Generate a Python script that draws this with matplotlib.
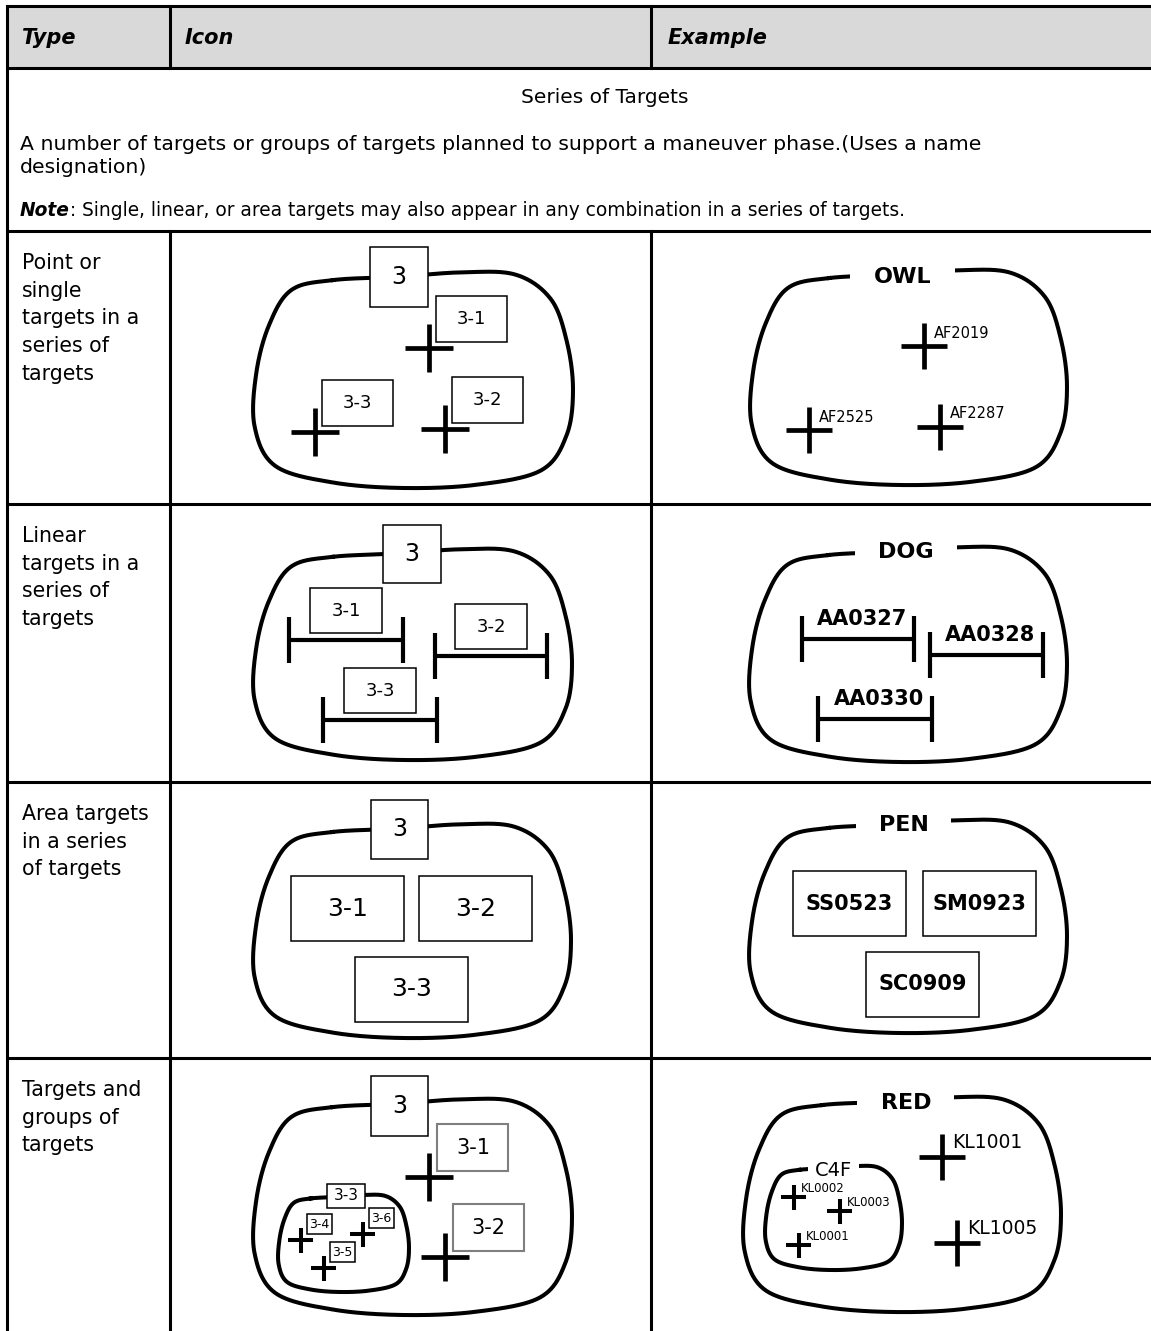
import numpy as np
import matplotlib
matplotlib.use("Agg")
import matplotlib.pyplot as plt
from matplotlib.patches import Rectangle

# ---- table text ----
HEADERS = ["Type", "Icon", "Example"]
SECTION_TITLE = "Series of Targets"
SECTION_DESC = ["A number of targets or groups of targets planned to support a maneuver phase.(Uses a name",
                "designation)"]
NOTE_HEAD = "Note"
NOTE_TEXT = ": Single, linear, or area targets may also appear in any combination in a series of targets."
ROW_TYPES = [
    ["Point or", "single", "targets in a", "series of", "targets"],
    ["Linear", "targets in a", "series of", "targets"],
    ["Area targets", "in a series", "of targets"],
    ["Targets and", "groups of", "targets"],
]

# ---- symbol labels ----
SERIES_NUMBER = "3"
POINT_ICON_LABELS = ["3-1", "3-2", "3-3"]
POINT_EXAMPLE_NAME = "OWL"
POINT_EXAMPLE_CODES = ["AF2019", "AF2287", "AF2525"]
LINEAR_ICON_LABELS = ["3-1", "3-2", "3-3"]
LINEAR_EXAMPLE_NAME = "DOG"
LINEAR_EXAMPLE_CODES = ["AA0327", "AA0328", "AA0330"]
AREA_ICON_LABELS = ["3-1", "3-2", "3-3"]
AREA_EXAMPLE_NAME = "PEN"
AREA_EXAMPLE_CODES = ["SS0523", "SM0923", "SC0909"]
GROUP_ICON_LABELS = ["3-1", "3-2"]
GROUP_ICON_SUBGROUP = "3-3"
GROUP_ICON_SUBLABELS = ["3-4", "3-5", "3-6"]
GROUP_EXAMPLE_NAME = "RED"
GROUP_EXAMPLE_CODES = ["KL1001", "KL1005"]
GROUP_EXAMPLE_SUBGROUP = "C4F"
GROUP_EXAMPLE_SUBCODES = ["KL0001", "KL0002", "KL0003"]

# normalised outline of the free-hand "series" boundary (u right, v down)
BLOB_SHAPE = np.array([
    (0.25, 0.055), (0.45, 0.04), (0.65, 0.02), (0.82, 0.03), (0.93, 0.14),
    (0.98, 0.33), (1.00, 0.55), (0.98, 0.76), (0.90, 0.92), (0.70, 0.985),
    (0.47, 1.00), (0.25, 0.975), (0.07, 0.90), (0.005, 0.72), (0.01, 0.48),
    (0.05, 0.26), (0.12, 0.10),
])

W, H = 1151, 1331
fig = plt.figure(figsize=(W / 100, H / 100), dpi=100)
ax = fig.add_axes([0, 0, 1, 1])
ax.set_xlim(0, W)
ax.set_ylim(H, 0)
ax.axis("off")


def closed_spline(pts, n=40):
    # closed Catmull-Rom through the points
    pts = np.asarray(pts, float)
    N = len(pts)
    t = np.linspace(0, 1, n, endpoint=False)[:, None]
    segs = []
    for i in range(N):
        p0, p1, p2, p3 = pts[i - 1], pts[i], pts[(i + 1) % N], pts[(i + 2) % N]
        segs.append(0.5 * (2 * p1 + (-p0 + p2) * t + (2 * p0 - 5 * p1 + 4 * p2 - p3) * t ** 2
                           + (-p0 + 3 * p1 - 3 * p2 + p3) * t ** 3))
    c = np.vstack(segs)
    return np.vstack([c, c[:1]])


def blob(x0, y0, x1, y1, lw=2.9):
    pts = np.column_stack([x0 + BLOB_SHAPE[:, 0] * (x1 - x0), y0 + BLOB_SHAPE[:, 1] * (y1 - y0)])
    c = closed_spline(pts)
    ax.plot(c[:, 0], c[:, 1], color="k", lw=lw, zorder=2, solid_joinstyle="round")


def cross(x, y, arm=24, lw=3.4):
    ax.plot([x - arm, x + arm], [y, y], color="k", lw=lw, solid_capstyle="butt", zorder=6)
    ax.plot([x, x], [y - arm, y + arm], color="k", lw=lw, solid_capstyle="butt", zorder=6)


def bar(xa, xb, y, half=23, lw=3.0):
    ax.plot([xa, xb], [y, y], color="k", lw=lw, solid_capstyle="butt", zorder=6)
    for xx in (xa, xb):
        ax.plot([xx, xx], [y - half, y + half], color="k", lw=lw, solid_capstyle="butt", zorder=6)


def label_box(x0, y0, w, h, text, size, ec="k", lw=1.1, weight="normal"):
    ax.add_patch(Rectangle((x0, y0), w, h, fc="white", ec=ec, lw=lw, zorder=4))
    ax.text(x0 + w / 2, y0 + h / 2, text, ha="center", va="center", fontsize=size,
            fontweight=weight, zorder=5)


def gap_title(cx, cy, text, gap, size=16, weight="bold"):
    ax.add_patch(Rectangle((cx - gap / 2, cy - 12), gap, 24, fc="white", ec="none", zorder=3))
    ax.text(cx, cy, text, ha="center", va="center", fontsize=size, fontweight=weight, zorder=5)


# ---- table grid ----
X_LEFT, X_COL1, X_COL2 = 7, 170, 651
Y_TOP, Y_HEAD = 6, 68
Y_ROWS = [231, 504, 782, 1058]
TLW = 2.2
ax.add_patch(Rectangle((X_LEFT, Y_TOP), W, Y_HEAD - Y_TOP, fc="#d9d9d9", ec="none", zorder=0))
for yy in [Y_TOP, Y_HEAD] + Y_ROWS:
    ax.plot([X_LEFT, W + 5], [yy, yy], color="k", lw=TLW, zorder=1, solid_capstyle="butt")
ax.plot([X_LEFT, X_LEFT], [Y_TOP, H + 5], color="k", lw=TLW, zorder=1)
for xx in (X_COL1, X_COL2):
    ax.plot([xx, xx], [Y_TOP, Y_HEAD], color="k", lw=TLW, zorder=1)
    ax.plot([xx, xx], [Y_ROWS[0], H + 5], color="k", lw=TLW, zorder=1)

# header
for txt, xx in zip(HEADERS, [22, 185, 668]):
    ax.text(xx, 44, txt, fontsize=15, fontweight="bold", fontstyle="italic", va="baseline")

# series section
ax.text(605, 103, SECTION_TITLE, fontsize=14.5, ha="center", va="baseline")
for i, line in enumerate(SECTION_DESC):
    ax.text(20, 150 + i * 23, line, fontsize=14.7, va="baseline")
t_note = ax.text(20, 216, NOTE_HEAD, fontsize=13.4, fontweight="bold", fontstyle="italic", va="baseline")
ax.annotate(NOTE_TEXT, xy=(1, 0), xycoords=t_note, fontsize=13.4, va="bottom", ha="left")

# type column
for lines, y0 in zip(ROW_TYPES, Y_ROWS):
    for i, line in enumerate(lines):
        ax.text(22, y0 + 38 + i * 27.7, line, fontsize=14.8, va="baseline")

# ---- row 1: point targets ----
blob(253, 268, 573, 488)
label_box(370, 247, 58, 60, SERIES_NUMBER, 17)
for (x, y), lab in zip([(429, 348), (445, 429), (315, 432)], POINT_ICON_LABELS):
    cross(x, y)
    label_box(x + 7, y - 52, 71, 46, lab, 13)

blob(750, 266, 1067, 485)
gap_title(903, 277, POINT_EXAMPLE_NAME, 105)
for (x, y), lab in zip([(924, 346), (940, 427), (809, 430)], POINT_EXAMPLE_CODES):
    cross(x, y, arm=23)
    ax.text(x + 10, y - 13, lab, fontsize=10.5, va="center", ha="left", zorder=5)

# ---- row 2: linear targets ----
blob(253, 545, 572, 760)
label_box(383, 525, 58, 58, SERIES_NUMBER, 17)
for (xa, xb, y), lab in zip([(289, 403, 640), (435, 547, 656), (323, 437, 720)], LINEAR_ICON_LABELS):
    bar(xa, xb, y)
    label_box((xa + xb) / 2 - 36, y - 52, 72, 45, lab, 13)

blob(749, 543, 1067, 762)
gap_title(906, 552, LINEAR_EXAMPLE_NAME, 102)
for (xa, xb, y), lab in zip([(802, 914, 639), (930, 1043, 655), (818, 932, 719)], LINEAR_EXAMPLE_CODES):
    bar(xa, xb, y)
    ax.text((xa + xb) / 2 + 4, y - 20, lab, fontsize=15, fontweight="bold", ha="center", va="center", zorder=5)

# ---- row 3: area targets ----
blob(253, 820, 571, 1038)
label_box(371, 800, 57, 59, SERIES_NUMBER, 17)
for (x0, y0), lab in zip([(291, 876), (419, 876), (355, 957)], AREA_ICON_LABELS):
    label_box(x0, y0, 113, 65, lab, 18)

blob(749, 816, 1067, 1033)
gap_title(904, 825, AREA_EXAMPLE_NAME, 95)
for (x0, y0), lab in zip([(793, 871), (923, 871), (866, 952)], AREA_EXAMPLE_CODES):
    label_box(x0, y0, 113, 65, lab, 15, weight="bold")

# ---- row 4: targets and groups of targets ----
blob(253, 1095, 572, 1315)
label_box(371, 1076, 57, 60, SERIES_NUMBER, 17)
for (x, y), lab in zip([(429.5, 1177), (445, 1257)], GROUP_ICON_LABELS):
    cross(x, y)
    label_box(x + 8, y - 53, 71, 47, lab, 15, ec="#7f7f7f", lw=1.5)
blob(278, 1193, 409, 1292)
label_box(327, 1184, 38, 24, GROUP_ICON_SUBGROUP, 11)
for (x, y), lab in zip([(301, 1240), (324, 1268), (363, 1234)], GROUP_ICON_SUBLABELS):
    cross(x, y, arm=12.5, lw=2.9)
    label_box(x + 6, y - 26, 25, 20, lab, 9)

blob(743, 1093, 1061, 1312)
gap_title(906, 1103, GROUP_EXAMPLE_NAME, 97)
for (x, y), lab in zip([(942, 1157), (957, 1243)], GROUP_EXAMPLE_CODES):
    cross(x, y, arm=23)
    ax.text(x + 10, y - 14, lab, fontsize=13.5, va="center", ha="left", zorder=5)
blob(765, 1164, 902, 1270)
gap_title(834, 1170, GROUP_EXAMPLE_SUBGROUP, 51, size=14, weight="normal")
for (x, y), lab in zip([(799, 1245), (794, 1197), (840, 1211)], GROUP_EXAMPLE_SUBCODES):
    cross(x, y, arm=12.5, lw=2.9)
    ax.text(x + 7, y - 9, lab, fontsize=8.5, va="center", ha="left", zorder=5)

fig.savefig("out.png", dpi=100, facecolor="white")
